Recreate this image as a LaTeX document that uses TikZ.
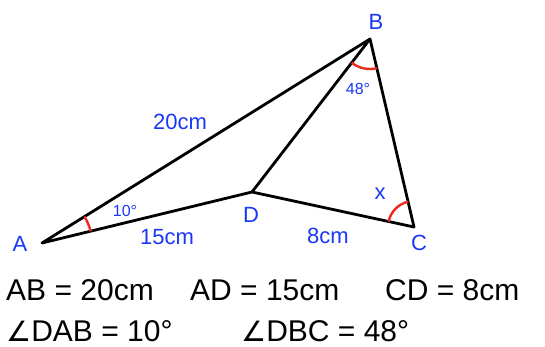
\documentclass[tikz,border=0pt]{standalone}
\usepackage{fontspec}
\setmainfont{Liberation Sans}
\newfontfamily\symfont{DejaVu Sans}
\usetikzlibrary{angles}
\definecolor{lblue}{RGB}{25,55,245}
\definecolor{lred}{RGB}{240,40,30}
\newcommand{\angsign}{{\symfont\fontsize{28}{30}\selectfont ∠}}

\begin{document}
\begin{tikzpicture}[x=1pt, y=-1pt, line join=round,
    lbl/.style={text=lblue, font=\fontsize{22}{24}\selectfont, inner sep=0pt},
    sml/.style={text=lblue, font=\fontsize{16}{18}\selectfont, inner sep=0pt},
    fact/.style={anchor=base west, inner sep=0pt, font=\fontsize{30}{32}\selectfont},
    anglemark/.style={draw=lred, line width=2.4pt}]
  \useasboundingbox (0,0) rectangle (545,347);
  % vertices
  \coordinate (A) at (42,243);
  \coordinate (B) at (370,39);
  \coordinate (C) at (414,227);
  \coordinate (D) at (252,192);
  % sides
  \draw[line width=2.8pt] (A) -- (B) -- (C) -- (D) -- cycle;
  \draw[line width=2.8pt] (B) -- (D);
  % angle marks
  \pic[anglemark, angle radius=50pt] {angle = D--A--B};
  \pic[anglemark, angle radius=30pt] {angle = D--B--C};
  \pic[anglemark, angle radius=26pt] {angle = B--C--D};
  % labels
  \node[lbl] (lA) at (20,244) {A};
  \node[lbl] (lB) at (376,22) {B};
  \node[lbl] (lC) at (419,243) {C};
  \node[lbl] (lD) at (251,215) {D};
  \node[lbl] (lAB) at (180,122) {20cm};
  \node[lbl] (lAD) at (167,237) {15cm};
  \node[lbl] (lCD) at (328,236) {8cm};
  \node[lbl] (lx) at (380,194) {x};
  \node[sml] (a10) at (125,211) {10°};
  \node[sml] (a48) at (358,89) {48°};
  % given facts
  \node[fact] (fAB) at (6,300) {AB = 20cm};
  \node[fact] (fAD) at (190,300) {AD = 15cm};
  \node[fact] (fCD) at (385,300) {CD = 8cm};
  \node[fact] (fDAB) at (6,341) {\angsign DAB = 10°};
  \node[fact] (fDBC) at (241,341) {\angsign DBC = 48°};
\end{tikzpicture}
\end{document}
